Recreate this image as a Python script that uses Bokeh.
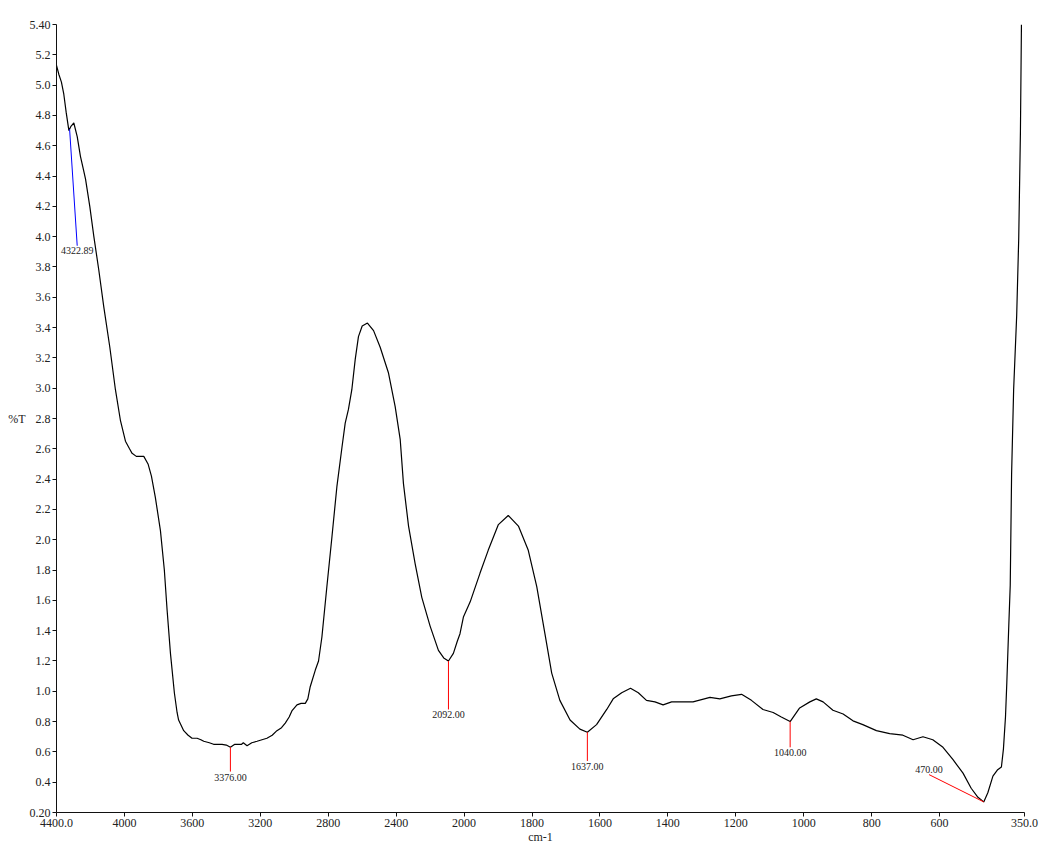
from bokeh.plotting import figure
from bokeh.models import FixedTicker, ColumnDataSource, Range1d
from bokeh.core.properties import value
from bokeh.embed import file_html
from bokeh.resources import INLINE
import numpy as np

# ---------------- data ----------------
wavenumber = [4400, 4386, 4371, 4357, 4343, 4327, 4314, 4298, 4278, 4259, 4243, 4229,
              4204, 4180, 4151, 4122, 4086, 4053, 4024, 3994, 3970, 3955, 3930, 3916,
              3886, 3861, 3841, 3818, 3788, 3765, 3749, 3729, 3706, 3690, 3681, 3651,
              3625, 3602, 3572, 3550, 3533, 3500, 3475, 3450, 3425, 3400, 3376, 3350,
              3337, 3310, 3300, 3278, 3250, 3219, 3190, 3161, 3130, 3102, 3075, 3053,
              3030, 3014, 2984, 2960, 2935, 2920, 2906, 2876, 2857, 2837, 2808, 2778,
              2749, 2719, 2700, 2681, 2661, 2641, 2622, 2600, 2569, 2533, 2494, 2445,
              2406, 2376, 2357, 2327, 2288, 2249, 2200, 2151, 2120, 2092, 2063, 2040,
              2024, 2004, 1982, 1953, 1929, 1899, 1870, 1840, 1811, 1786, 1762, 1742,
              1718, 1688, 1659, 1637, 1610, 1580, 1561, 1536, 1510, 1487, 1463, 1438,
              1414, 1389, 1326, 1276, 1247, 1213, 1183, 1154, 1120, 1090, 1066, 1040,
              1012, 982, 963, 943, 914, 884, 855, 826, 786, 747, 708, 678,
              649, 620, 590, 561, 531, 507, 487, 470, 458, 443, 430, 418,
              412, 406, 402, 396, 392, 388, 382, 373, 367, 362, 359]
transmittance = [5.13, 5.07, 5.02, 4.94, 4.82, 4.70, 4.73, 4.75, 4.66, 4.53, 4.45, 4.38,
                 4.20, 4.00, 3.78, 3.54, 3.27, 2.99, 2.79, 2.65, 2.60, 2.57, 2.55, 2.55,
                 2.55, 2.50, 2.42, 2.28, 2.06, 1.80, 1.54, 1.25, 0.99, 0.86, 0.81, 0.74,
                 0.71, 0.69, 0.69, 0.68, 0.67, 0.66, 0.65, 0.65, 0.65, 0.645, 0.63, 0.65,
                 0.65, 0.65, 0.66, 0.64, 0.66, 0.67, 0.68, 0.69, 0.71, 0.74, 0.76, 0.79,
                 0.83, 0.87, 0.91, 0.92, 0.92, 0.95, 1.03, 1.14, 1.20, 1.36, 1.69, 2.02,
                 2.35, 2.61, 2.77, 2.86, 2.99, 3.19, 3.34, 3.41, 3.43, 3.38, 3.27, 3.10,
                 2.88, 2.66, 2.37, 2.09, 1.84, 1.62, 1.43, 1.27, 1.22, 1.20, 1.25, 1.33,
                 1.38, 1.49, 1.59, 1.78, 1.93, 2.10, 2.16, 2.09, 1.93, 1.69, 1.38, 1.12,
                 0.94, 0.81, 0.75, 0.73, 0.78, 0.88, 0.95, 0.99, 1.02, 0.99, 0.94, 0.93,
                 0.91, 0.93, 0.93, 0.96, 0.95, 0.97, 0.98, 0.94, 0.88, 0.86, 0.83, 0.80,
                 0.89, 0.93, 0.95, 0.93, 0.875, 0.85, 0.805, 0.78, 0.74, 0.72, 0.71, 0.68,
                 0.70, 0.68, 0.63, 0.55, 0.46, 0.36, 0.30, 0.27, 0.33, 0.44, 0.48, 0.50,
                 0.62, 0.83, 1.06, 1.45, 1.70, 2.43, 2.99, 3.48, 3.99, 4.69, 5.40]

peak_wn = [4322.89, 3376.00, 2092.00, 1637.00, 1040.00, 470.00]
peak_text = ["4322.89", "3376.00", "2092.00", "1637.00", "1040.00", "470.00"]
label_wn = [4278, 3376, 2092, 1637, 1040, 631]
label_T = [3.94, 0.47, 0.88, 0.54, 0.63, 0.45]
marker_color = ["#0000ff", "#ff0000", "#ff0000", "#ff0000", "#ff0000", "#ff0000"]
label_baseline = ["top", "top", "top", "top", "top", "bottom"]
label_dy = [1, 2, 2, 2, 2, -2]

x_tick_wn = [4400, 4000, 3600, 3200, 2800, 2400, 2000, 1800, 1600, 1400, 1200,
             1000, 800, 600, 350]
x_tick_labels = ["4400.0", "4000", "3600", "3200", "2800", "2400", "2000", "1800",
                 "1600", "1400", "1200", "1000", "800", "600", "350.0"]
y_ticks = [round(0.2 + 0.2 * i, 1) for i in range(27)]
y_tick_labels = ["0.20"] + [f"{v:.1f}" for v in y_ticks[1:-1]] + ["5.40"]


# spectrometer axis: 1x scale above 2000 cm-1, 2x expansion below 2000 cm-1
def to_axis(wn):
    wn = np.asarray(wn, dtype=float)
    return np.where(wn >= 2000, 4400 - wn, 2400 + 2 * (2000 - wn))


SERIF = "Liberation Serif"

p = figure(width=1039, height=846, output_backend="svg", toolbar_location=None,
           x_range=Range1d(0, 5700), y_range=Range1d(0.2, 5.4),
           min_border_left=56, min_border_top=24, min_border_right=15,
           min_border_bottom=33)
p.outline_line_color = None
p.xgrid.visible = False
p.ygrid.visible = False

src = ColumnDataSource(dict(x=to_axis(wavenumber), y=transmittance))
p.line("x", "y", source=src, line_color="black", line_width=1.2)

# peak markers
wn_asc = np.array(wavenumber[::-1], dtype=float)
t_asc = np.array(transmittance[::-1], dtype=float)
peak_T = np.interp(peak_wn, wn_asc, t_asc)
ann = ColumnDataSource(dict(x0=to_axis(peak_wn), y0=peak_T,
                            x1=to_axis(label_wn), y1=label_T,
                            color=marker_color, text=peak_text,
                            baseline=label_baseline, dy=label_dy))
p.segment("x0", "y0", "x1", "y1", source=ann, line_color="color", line_width=1)
p.text("x1", "y1", text="text", source=ann, text_align="center",
       text_baseline="baseline", y_offset="dy", text_font=value(SERIF),
       text_font_size="10px", text_color="#222222")

# axes
xt = [float(v) for v in to_axis(x_tick_wn)]
p.xaxis.ticker = FixedTicker(ticks=xt)
p.xaxis.major_label_overrides = {t: lab for t, lab in zip(xt, x_tick_labels)}
p.yaxis.ticker = FixedTicker(ticks=y_ticks)
p.yaxis.major_label_overrides = {t: lab for t, lab in zip(y_ticks, y_tick_labels)}

for ax in (p.xaxis[0], p.yaxis[0]):
    ax.axis_line_color = "#111111"
    ax.axis_line_width = 1
    ax.major_tick_line_color = "#111111"
    ax.major_tick_in = 0
    ax.major_tick_out = 4
    ax.minor_tick_line_color = None
    ax.major_label_text_font = SERIF
    ax.major_label_text_font_size = "12px"
    ax.major_label_text_color = "#222222"
    ax.axis_label_text_font = SERIF
    ax.axis_label_text_font_size = "12px"
    ax.axis_label_text_font_style = "normal"
    ax.axis_label_text_color = "#222222"

p.xaxis.axis_label = "cm-1"
p.xaxis.major_label_standoff = 2
p.xaxis.axis_label_standoff = 0
p.yaxis.axis_label = "%T"
p.yaxis.axis_label_orientation = "horizontal"
p.yaxis.major_label_standoff = 2
p.yaxis.axis_label_standoff = 1

open("out.html", "w").write(file_html(p, INLINE))
